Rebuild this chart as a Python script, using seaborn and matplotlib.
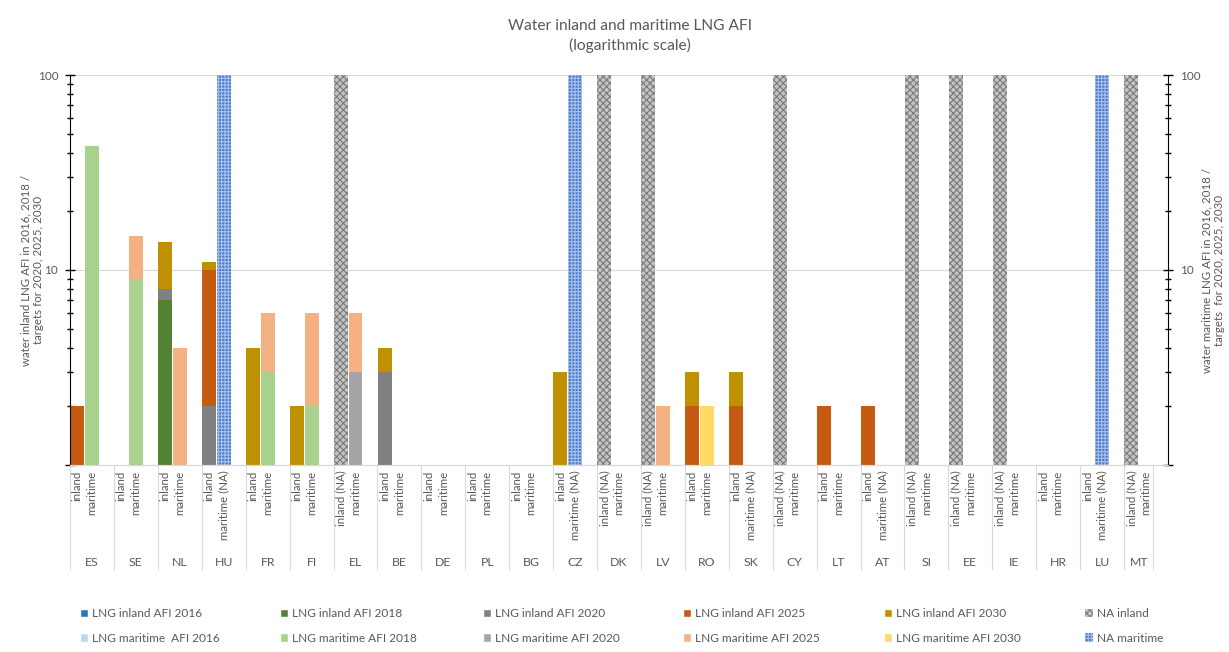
import matplotlib
matplotlib.use("Agg")
from matplotlib import pyplot as plt
from matplotlib.patches import Patch
from matplotlib.ticker import LogLocator, NullFormatter
import pandas as pd
import seaborn as sns

countries = ["ES", "SE", "NL", "HU", "FR", "FI", "EL", "BE", "DE", "PL", "BG", "CZ", "DK",
             "LV", "RO", "SK", "CY", "LT", "AT", "SI", "EE", "IE", "HR", "LU", "MT"]

# stacked increments per year (inland / maritime)
inland_2016 = [0, 0, 0, 0, 0, 0, 0, 0, 0, 0, 0, 0, 0, 0, 0, 0, 0, 0, 0, 0, 0, 0, 0, 0, 0]
inland_2018 = [0, 0, 7, 0, 0, 0, 0, 0, 0, 0, 0, 0, 0, 0, 0, 0, 0, 0, 0, 0, 0, 0, 0, 0, 0]
inland_2020 = [0, 0, 1, 2, 0, 0, 0, 3, 0, 0, 0, 0, 0, 0, 0, 0, 0, 0, 0, 0, 0, 0, 0, 0, 0]
inland_2025 = [2, 0, 0, 8, 0, 0, 0, 0, 0, 0, 0, 0, 0, 0, 2, 2, 0, 2, 2, 0, 0, 0, 0, 0, 0]
inland_2030 = [0, 0, 6, 1, 4, 2, 0, 1, 0, 0, 0, 3, 0, 0, 1, 1, 0, 0, 0, 0, 0, 0, 0, 0, 0]

maritime_2016 = [0, 0, 0, 0, 0, 0, 0, 0, 0, 0, 0, 0, 0, 0, 0, 0, 0, 0, 0, 0, 0, 0, 0, 0, 0]
maritime_2018 = [43, 9, 0, 0, 3, 2, 0, 0, 0, 0, 0, 0, 0, 0, 0, 0, 0, 0, 0, 0, 0, 0, 0, 0, 0]
maritime_2020 = [0, 0, 0, 0, 0, 0, 3, 0, 0, 0, 0, 0, 0, 0, 0, 0, 0, 0, 0, 0, 0, 0, 0, 0, 0]
maritime_2025 = [0, 6, 4, 0, 3, 4, 3, 0, 0, 0, 0, 0, 0, 2, 0, 0, 0, 0, 0, 0, 0, 0, 0, 0, 0]
maritime_2030 = [0, 0, 0, 0, 0, 0, 0, 0, 0, 0, 0, 0, 0, 0, 2, 0, 0, 0, 0, 0, 0, 0, 0, 0, 0]

na_inland = ["EL", "DK", "LV", "CY", "SI", "EE", "IE", "MT"]
na_maritime_bars = ["HU", "CZ", "LU"]
na_maritime_labels = ["HU", "CZ", "SK", "AT", "LU"]
NA_TOP = 100

years = ["2016", "2018", "2020", "2025", "2030"]
inland_layers = [inland_2016, inland_2018, inland_2020, inland_2025, inland_2030]
maritime_layers = [maritime_2016, maritime_2018, maritime_2020, maritime_2025, maritime_2030]

inland_colors = ["#2e75b6", "#548235", "#808080", "#c55a11", "#bf9000"]
maritime_colors = ["#bdd7ee", "#a9d18e", "#a5a5a5", "#f4b183", "#ffd966"]
TXT = "#595959"

sns.set_style("white")
plt.rcParams["font.family"] = ["Lato", "DejaVu Sans"]
plt.rcParams["hatch.linewidth"] = 0.8

# one slot per bar: inland, maritime, spacer
slots = list(range(75))
rows = []
for side, layers, offset in [("inland", inland_layers, 0), ("maritime", maritime_layers, 1)]:
    for i, c in enumerate(countries):
        top = 0
        for y, layer in zip(years, layers):
            if layer[i] > 0:
                top += layer[i]
                rows.append({"side": side, "year": y, "slot": 3 * i + offset, "top": top})
df = pd.DataFrame(rows)

fig, ax = plt.subplots(figsize=(12.29, 6.52), dpi=100)
fig.subplots_adjust(left=70 / 1229, right=1168 / 1229, top=1 - 75 / 652, bottom=1 - 465 / 652)

# stacked look: draw cumulative totals from the top layer down
for side, colors in [("inland", inland_colors), ("maritime", maritime_colors)]:
    for y, col in reversed(list(zip(years, colors))):
        sub = df[(df.side == side) & (df.year == y)]
        if sub.empty:
            continue
        sns.barplot(data=sub, x="slot", y="top", order=slots, color=col, saturation=1,
                    width=0.95, errorbar=None, linewidth=0, ax=ax)

na_df = pd.DataFrame(
    [{"kind": "inland", "slot": 3 * countries.index(c), "top": NA_TOP} for c in na_inland]
    + [{"kind": "maritime", "slot": 3 * countries.index(c) + 1, "top": NA_TOP} for c in na_maritime_bars])
na_styles = {"inland": ("#c4c4c4", "#7a7a7a", "xxxxx"), "maritime": ("#4d7cc9", "#a8c2ee", "+++++")}
for kind, (fc, hc, hatch) in na_styles.items():
    n0 = len(ax.patches)
    sns.barplot(data=na_df[na_df.kind == kind], x="slot", y="top", order=slots, color=fc,
                saturation=1, width=0.95, errorbar=None, ax=ax)
    for p in ax.patches[n0:]:
        p.set_hatch(hatch)
        p.set_edgecolor(hc)
        p.set_linewidth(0)

ax.set_yscale("log")
ax.set_ylim(1, 100)
ax.set_xlim(-0.5, 74.5)
ax.set_xlabel("")
ax.set_ylabel("")

# x category labels
tick_pos, tick_lab = [], []
for i, c in enumerate(countries):
    tick_pos += [3 * i, 3 * i + 1]
    tick_lab += ["inland (NA)" if c in na_inland else "inland",
                 "maritime (NA)" if c in na_maritime_labels else "maritime"]
ax.set_xticks(tick_pos, labels=tick_lab, rotation=90, fontsize=8.3, color=TXT)
ax.tick_params(axis="x", length=0, pad=4)

xt = ax.get_xaxis_transform()
for i, c in enumerate(countries):
    cx = 3 * i + 1 if i < len(countries) - 1 else 3 * i + 0.5
    ax.text(cx, -0.251, c, transform=xt, ha="center", va="center", fontsize=8.8, color=TXT)
seps = [3 * i - 0.5 for i in range(len(countries))] + [3 * (len(countries) - 1) + 1.5]
ax.vlines(seps, -0.27, 0, transform=xt, clip_on=False, color="#d9d9d9", lw=0.8)

# y axes, both sides
ax2 = ax.twinx()
ax2.set_yscale("log")
ax2.set_ylim(1, 100)
for a in (ax, ax2):
    a.set_yticks([1, 10, 100], labels=["", "10", "100"])
    a.yaxis.set_minor_locator(LogLocator(base=10, subs=range(2, 10)))
    a.yaxis.set_minor_formatter(NullFormatter())
    a.tick_params(axis="y", which="major", direction="inout", length=7, width=1,
                  color="black", labelsize=8.5, labelcolor=TXT, pad=5)
    a.tick_params(axis="y", which="minor", direction="inout", length=5, width=1, color="black")
    a.spines["top"].set_visible(False)
    a.spines["bottom"].set_color("#d9d9d9")
ax.spines["right"].set_visible(False)
ax2.spines["left"].set_visible(False)
ax.spines["left"].set_color("black")
ax2.spines["right"].set_color("black")
ax.yaxis.grid(True, which="major", color="#d9d9d9", lw=0.8)
ax.set_axisbelow(True)

fig.text(630 / 1229, 1 - 36 / 652, "Water inland and maritime LNG AFI\n(logarithmic scale)",
         ha="center", va="center", fontsize=11.2, color=TXT, linespacing=1.35)
fig.text(32 / 1229, 1 - 270 / 652, "water inland LNG AFI in 2016, 2018 /\ntargets for 2020, 2025, 2030",
         rotation=90, ha="center", va="center", fontsize=8.3, color=TXT, multialignment="center")
fig.text(1213 / 1229, 1 - 270 / 652, "water maritime LNG AFI in 2016, 2018 /\ntargets  for 2020, 2025, 2030",
         rotation=90, ha="center", va="center", fontsize=8.3, color=TXT, multialignment="center")

# legend: six columns, inland on top row, maritime below
leg_x = [80, 280, 483, 683, 884, 1085]
labels_in = ["LNG inland AFI 2016", "LNG inland AFI 2018", "LNG inland AFI 2020",
             "LNG inland AFI 2025", "LNG inland AFI 2030", "NA inland"]
labels_mar = ["LNG maritime  AFI 2016", "LNG maritime AFI 2018", "LNG maritime AFI 2020",
              "LNG maritime AFI 2025", "LNG maritime AFI 2030", "NA maritime"]
for j, x in enumerate(leg_x):
    if j < 5:
        h1 = Patch(facecolor=inland_colors[j], label=labels_in[j])
        h2 = Patch(facecolor=maritime_colors[j], label=labels_mar[j])
    else:
        fc, hc, hatch = na_styles["inland"]
        h1 = Patch(facecolor=fc, edgecolor=hc, hatch=hatch, lw=0, label=labels_in[j])
        fc, hc, hatch = na_styles["maritime"]
        h2 = Patch(facecolor=fc, edgecolor=hc, hatch=hatch, lw=0, label=labels_mar[j])
    fig.legend(handles=[h1, h2], loc="upper left", bbox_to_anchor=(x / 1229, 1 - 608 / 652),
               frameon=False, fontsize=8.6, labelcolor=TXT, handlelength=0.7, handleheight=0.7,
               handletextpad=0.3, labelspacing=1.15, borderpad=0, borderaxespad=0)

fig.savefig("out.png", dpi=100)
